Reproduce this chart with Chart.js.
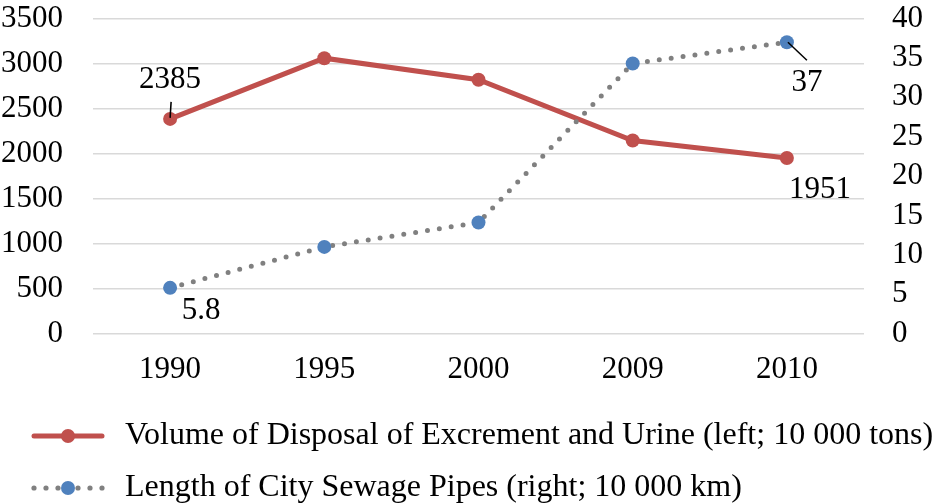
<!DOCTYPE html>
<html>
<head>
<meta charset="utf-8">
<script src="https://cdn.jsdelivr.net/npm/chart.js@4/dist/chart.umd.min.js"></script>
<style>
html,body{margin:0;padding:0;background:#fff;}
#wrap{width:938px;height:504px;position:relative;}
</style>
</head>
<body>
<div id="wrap"><canvas id="c" width="938" height="504"></canvas></div>
<script>
const categories = ['1990', '1995', '2000', '2009', '2010'];
const excrementVolume = [2385, 3060, 2820, 2145, 1951];
const sewageLength = [5.8, 11, 14.1, 34.3, 37];
const leftTicks = [0, 500, 1000, 1500, 2000, 2500, 3000, 3500];
const rightTicks = [0, 5, 10, 15, 20, 25, 30, 35, 40];
const seriesNames = [
  'Volume of Disposal of Excrement and Urine (left; 10 000 tons)',
  'Length of City Sewage Pipes (right; 10 000 km)'
];

const RED = '#C0504D', BLUE = '#4F81BD', GRAY = '#808080';
const FONT = "'Liberation Serif', 'Times New Roman', serif";

function legendIcon(kind) {
  const c = document.createElement('canvas');
  c.width = 89; c.height = 18;
  const x = c.getContext('2d');
  if (kind === 0) {
    x.strokeStyle = RED; x.lineWidth = 5; x.lineCap = 'round';
    x.beginPath(); x.moveTo(14, 9); x.lineTo(82, 9); x.stroke();
    x.fillStyle = RED;
    x.beginPath(); x.arc(48, 9, 7, 0, Math.PI * 2); x.fill();
  } else {
    x.fillStyle = GRAY;
    [14, 26, 38, 58, 70, 82].forEach(px => { x.beginPath(); x.arc(px, 9, 2.6, 0, Math.PI * 2); x.fill(); });
    x.fillStyle = BLUE;
    x.beginPath(); x.arc(48, 9, 7, 0, Math.PI * 2); x.fill();
  }
  return c;
}
const icons = [legendIcon(0), legendIcon(1)];

const labelPlugin = {
  id: 'dataLabels',
  afterDatasetsDraw(chart) {
    const ctx = chart.ctx;
    ctx.save();
    ctx.font = '31px ' + FONT;
    ctx.fillStyle = '#000';
    ctx.textAlign = 'center';
    ctx.textBaseline = 'middle';
    ctx.strokeStyle = '#000';
    ctx.lineWidth = 1.5;
    const m0 = chart.getDatasetMeta(0).data;
    const m1 = chart.getDatasetMeta(1).data;
    let p = m0[0];
    ctx.fillText(String(excrementVolume[0]), p.x, p.y - 39);
    ctx.beginPath(); ctx.moveTo(p.x + 1, p.y - 17); ctx.lineTo(p.x, p.y - 1); ctx.stroke();
    p = m0[4];
    ctx.fillText(String(excrementVolume[4]), p.x + 33, p.y + 32);
    p = m1[0];
    ctx.fillText(String(sewageLength[0]), p.x + 31, p.y + 23);
    p = m1[4];
    ctx.fillText(String(sewageLength[4]), p.x + 20, p.y + 41);
    ctx.beginPath(); ctx.moveTo(p.x + 1, p.y); ctx.lineTo(p.x + 20, p.y + 18); ctx.stroke();
    ctx.restore();
  }
};

new Chart(document.getElementById('c'), {
  type: 'line',
  data: {
    labels: categories,
    datasets: [
      {
        label: seriesNames[0],
        data: excrementVolume,
        yAxisID: 'yL',
        borderColor: RED,
        backgroundColor: RED,
        borderWidth: 5,
        pointRadius: 7,
        pointHoverRadius: 7,
        pointBorderWidth: 0,
        pointBackgroundColor: RED,
        pointStyle: 'circle',
        tension: 0,
        order: 1
      },
      {
        label: seriesNames[1],
        data: sewageLength,
        yAxisID: 'yR',
        borderColor: GRAY,
        backgroundColor: BLUE,
        borderWidth: 5,
        borderDash: [0, 12],
        borderCapStyle: 'round',
        pointRadius: 7,
        pointHoverRadius: 7,
        pointBorderWidth: 0,
        pointBackgroundColor: BLUE,
        pointStyle: 'circle',
        tension: 0,
        order: 0
      }
    ]
  },
  options: {
    responsive: false,
    animation: false,
    devicePixelRatio: 1,
    layout: { padding: { top: 0, left: 0, right: 0, bottom: -10 } },
    plugins: {
      tooltip: { enabled: false },
      legend: {
        position: 'bottom',
        align: 'start',
        labels: {
          font: { family: FONT, size: 32 },
          color: '#000',
          usePointStyle: true,
          pointStyleWidth: 89,
          boxHeight: 18,
          padding: 20,
          generateLabels(chart) {
            return chart.data.datasets.map((ds, i) => ({
              text: ds.label,
              pointStyle: icons[i],
              fillStyle: 'transparent',
              strokeStyle: 'transparent',
              lineWidth: 0,
              hidden: false,
              datasetIndex: i,
              fontColor: '#000'
            }));
          }
        }
      }
    },
    scales: {
      x: {
        offset: true,
        grid: { display: false, drawTicks: false },
        border: { display: false },
        ticks: { font: { family: FONT, size: 31 }, color: '#000', padding: 18 },
        afterFit(s) { s.height = 66.5; }
      },
      yL: {
        position: 'left',
        min: 0, max: 3500,
        afterBuildTicks(s) { s.ticks = leftTicks.map(v => ({ value: v })); },
        grid: { color: '#d9d9d9', lineWidth: 1.5, drawTicks: true, tickLength: 30, tickColor: 'rgba(0,0,0,0)' },
        border: { display: false },
        ticks: { font: { family: FONT, size: 31 }, color: '#000', padding: 0, autoSkip: false, callback: v => String(v) },
        afterFit(s) { s.width = 93; }
      },
      yR: {
        position: 'right',
        min: 0, max: 40,
        afterBuildTicks(s) { s.ticks = rightTicks.map(v => ({ value: v })); },
        grid: { display: true, drawOnChartArea: false, color: 'rgba(0,0,0,0)', drawTicks: true, tickLength: 28, tickColor: 'rgba(0,0,0,0)' },
        border: { display: false },
        ticks: { font: { family: FONT, size: 31 }, color: '#000', padding: 0, autoSkip: false, callback: v => String(v) },
        afterFit(s) { s.width = 74; }
      }
    }
  },
  plugins: [labelPlugin]
});
</script>
</body>
</html>
